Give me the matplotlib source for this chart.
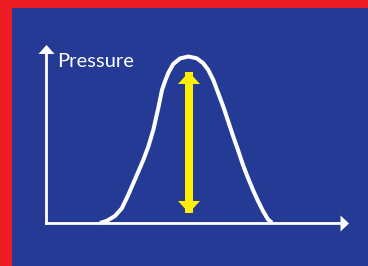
import matplotlib
matplotlib.use("Agg")
import matplotlib.pyplot as plt
from matplotlib.patches import FancyArrow

# colours
red = "#ED1C24"
blue = "#253A94"
yellow = "#FFF000"

# bell curve (pixel coords, y down)
curve_x = [100, 106.7, 115, 121.7, 128, 133.3, 138.3, 143.3, 148.3, 153.3,
           158.3, 162, 165.5, 168.5, 173.3, 180, 188.3, 196.7, 203.3, 208.3,
           213.3, 218.3, 223.3, 228.3, 233.3, 238, 243, 248, 253, 258, 263,
           268, 272]
curve_y = [223, 220.9, 216, 208.5, 195.5, 183.3, 171.7, 160, 146.7, 130,
           108, 90, 80, 72.5, 64, 58.5, 56.5, 58.3, 63.3, 70,
           80, 93.3, 106.7, 121.7, 136.7, 150, 165, 178, 190, 201, 211,
           219.5, 222.7]

# axes origin and arrow tips
origin = (45, 223.5)
y_tip = 45
x_tip = 349

# amplitude arrow
amp_x = 189
amp_top, amp_bottom = 72, 213

fig = plt.figure(figsize=(3.68, 2.66), dpi=100)
fig.patch.set_facecolor(red)
ax = fig.add_axes([12 / 368, -0.01, 1, 258 / 266 + 0.01])
ax.set_facecolor(blue)
ax.set_xlim(12, 380)
ax.set_ylim(268.7, 8)
ax.set_xticks([])
ax.set_yticks([])
for s in ax.spines.values():
    s.set_visible(False)

# y axis
ax.add_patch(FancyArrow(origin[0] + 1.5, origin[1] + 1.2, 0, y_tip - origin[1] - 1.2,
                        width=2.8, head_width=16, head_length=9,
                        length_includes_head=True, color="white", lw=0))
# x axis
ax.add_patch(FancyArrow(origin[0], origin[1], x_tip - origin[0], 0,
                        width=2.8, head_width=16, head_length=8.5,
                        length_includes_head=True, color="white", lw=0))

ax.plot(curve_x, curve_y, color="white", lw=2.9, solid_capstyle="butt",
        solid_joinstyle="round")

# double-headed yellow arrow: two full-length arrows, one head each
for start, end in ((amp_bottom, amp_top), (amp_top, amp_bottom)):
    ax.add_patch(FancyArrow(amp_x, start, 0, end - start, width=8, head_width=22,
                            head_length=12, length_includes_head=True,
                            color=yellow, lw=0))

ax.text(57, 67.5, "Pressure", color="white", fontsize=14.5, family="Lato",
        va="baseline", ha="left")

fig.savefig("out.png", dpi=100, facecolor=red)
